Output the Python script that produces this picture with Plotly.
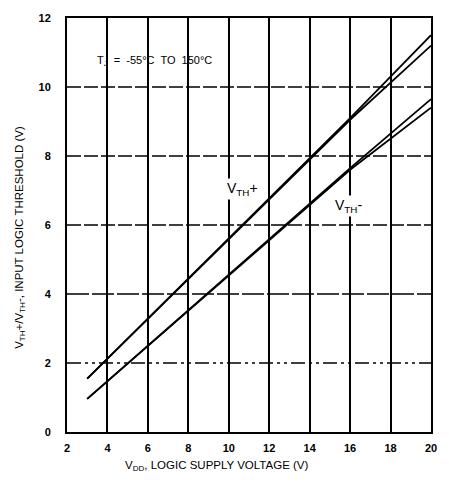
import plotly.graph_objects as go

# Supply voltage points (V) at which the threshold curves are sampled
vdd = [3, 16, 20]

# V_TH+ band: upper and lower temperature extremes (V)
vth_plus_hi = [1.55, 9.1, 11.5]
vth_plus_lo = [1.55, 9.05, 11.2]

# V_TH- band: upper and lower temperature extremes (V)
vth_minus_hi = [0.96, 7.65, 9.65]
vth_minus_lo = [0.96, 7.6, 9.4]

x_ticks = [2, 4, 6, 8, 10, 12, 14, 16, 18, 20]
y_ticks = [0, 2, 4, 6, 8, 10, 12]

# Dash style for each interior horizontal gridline
h_grid_levels = [2, 4, 6, 8, 10]
h_grid_dash = ["14px,4px,3px,4px,3px,4px", "22px,3px", "14px,3px", "14px,3px", "14px,3px"]

FONT = "Liberation Sans, Arial, sans-serif"

fig = go.Figure()

for ys in (vth_plus_hi, vth_plus_lo, vth_minus_hi, vth_minus_lo):
    fig.add_trace(go.Scatter(
        x=vdd, y=ys, mode="lines",
        line=dict(color="black", width=1.8),
        hoverinfo="skip", showlegend=False,
    ))

shapes = []
for lvl, dash in zip(h_grid_levels, h_grid_dash):
    shapes.append(dict(
        type="line", xref="paper", x0=0, x1=1, yref="y", y0=lvl, y1=lvl,
        line=dict(color="black", width=1.5, dash=dash), layer="below",
    ))

annotations = [
    dict(x=3.4, y=10.75, xref="x", yref="y", xanchor="left", showarrow=False,
         text="T<sub>J</sub>  =  -55°C  TO  150°C",
         font=dict(family=FONT, size=11, color="black")),
    dict(x=10.7, y=7.05, xref="x", yref="y", showarrow=False,
         text="V<sub>TH</sub>+", bgcolor="white",
         font=dict(family=FONT, size=14, color="black")),
    dict(x=15.9, y=6.55, xref="x", yref="y", showarrow=False,
         text="V<sub>TH</sub>-", bgcolor="white",
         font=dict(family=FONT, size=14, color="black")),
    dict(x=0.41, y=-0.081, xref="paper", yref="paper", showarrow=False,
         xanchor="center", yanchor="middle",
         text="V<sub>DD</sub>, LOGIC SUPPLY VOLTAGE (V)",
         font=dict(family=FONT, size=11.5, color="black")),
    dict(x=-0.128, y=0.47, xref="paper", yref="paper", showarrow=False,
         xanchor="center", yanchor="middle", textangle=-90,
         text="V<sub>TH</sub>+/V<sub>TH</sub>-, INPUT LOGIC THRESHOLD (V)",
         font=dict(family=FONT, size=11.5, color="black")),
]

fig.update_layout(
    width=449, height=491,
    margin=dict(l=67, r=15, t=12, b=59),
    paper_bgcolor="white", plot_bgcolor="white",
    shapes=shapes, annotations=annotations,
    font=dict(family=FONT, size=11, color="black"),
    xaxis=dict(
        range=[2, 20], tickvals=x_ticks, ticktext=[str(v) for v in x_ticks],
        showgrid=True, gridcolor="black", gridwidth=1.5,
        showline=True, linecolor="black", linewidth=2, mirror=True,
        ticks="", ticklen=0, zeroline=False, ticklabelstandoff=5,
        tickfont=dict(family=FONT, size=11, color="black", weight="bold"),
    ),
    yaxis=dict(
        range=[0, 12], tickvals=y_ticks, ticktext=[str(v) for v in y_ticks],
        showgrid=False,
        showline=True, linecolor="black", linewidth=2, mirror=True,
        ticks="", ticklen=0, zeroline=False, ticklabelstandoff=12,
        tickfont=dict(family=FONT, size=11, color="black", weight="bold"),
    ),
)

fig.write_html("out.html")
